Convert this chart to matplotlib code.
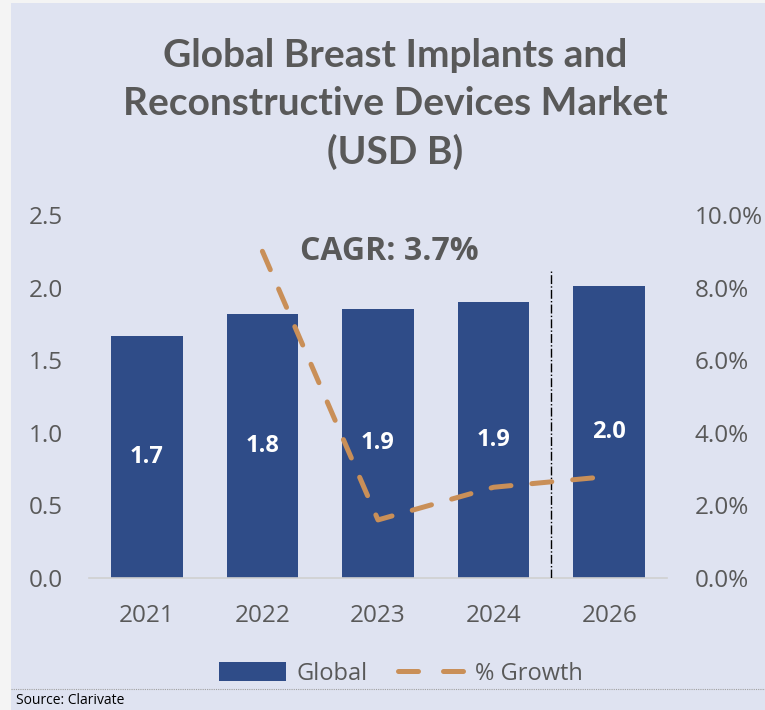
import matplotlib
matplotlib.use("Agg")
import matplotlib.pyplot as plt
import numpy as np
from matplotlib.patches import Rectangle
from matplotlib.lines import Line2D

years = ["2021", "2022", "2023", "2024", "2026"]
market = [1.67, 1.82, 1.855, 1.90, 2.01]
growth_pct = [np.nan, 9.0, 1.6, 2.5, 2.8]
left_ticks = [0.0, 0.5, 1.0, 1.5, 2.0, 2.5]
right_ticks = [0, 2, 4, 6, 8, 10]
title = "Global Breast Implants and\nReconstructive Devices Market\n(USD B)"
cagr_text = "CAGR: 3.7%"
source = "Source: Clarivate"

BG = "#dfe3f1"
BAR = "#2f4c88"
LINE = "#c98f58"
TXT = "#595959"

W, H = 765, 710
fig = plt.figure(figsize=(W / 100, H / 100), dpi=100, facecolor=BG)
fig.patches.append(Rectangle((0, 0), 11 / W, 1, transform=fig.transFigure,
                             facecolor="#f4f4f4", edgecolor="none", zorder=0))
fig.patches.append(Rectangle((0, 1 - 3 / H), 1, 3 / H, transform=fig.transFigure,
                             facecolor="#f4f4f4", edgecolor="none", zorder=0))

ax = fig.add_axes([89 / W, 1 - 578 / H, (667 - 89) / W, (578 - 215) / H])
ax.set_facecolor("none")
x = np.arange(len(years))
ax.bar(x, market, width=0.62, color=BAR, zorder=2)
for xi, v in zip(x, market):
    ax.text(xi, v / 2, f"{v:.1f}", ha="center", va="center", color="white",
            fontsize=17, fontweight="bold", family="Open Sans", zorder=4)

ax.set_xlim(-0.5, 4.5)
ax.set_ylim(0, 2.5)
ax.set_yticks(left_ticks)
ax.set_yticklabels([f"{t:.1f}" for t in left_ticks])
ax.set_xticks(x)
ax.set_xticklabels(years)
for s in ["top", "right", "left"]:
    ax.spines[s].set_visible(False)
ax.spines["bottom"].set_color("#d0d0d0")
ax.spines["bottom"].set_linewidth(1.2)
ax.tick_params(axis="both", length=0, colors=TXT, labelsize=17.5)
ax.tick_params(axis="y", pad=19)
ax.tick_params(axis="x", pad=19)
for lab in ax.get_xticklabels() + ax.get_yticklabels():
    lab.set_family("Open Sans")

ax.plot([3.5, 3.5], [0, 2.12], color="black", lw=1, linestyle="-.", zorder=3)

ax2 = ax.twinx()
ax2.set_ylim(0, 10)
ax2.set_yticks(right_ticks)
ax2.set_yticklabels([f"{t:.1f}%" for t in right_ticks])
for s in ["top", "right", "left", "bottom"]:
    ax2.spines[s].set_visible(False)
ax2.tick_params(axis="y", length=0, colors=TXT, labelsize=17.5, pad=20)
for lab in ax2.get_yticklabels():
    lab.set_family("Open Sans")
ax2.plot(x, growth_pct, color=LINE, lw=3.6, dashes=(4, 4.2),
         dash_capstyle="round", zorder=5)

ax2.text(2.1, 9.0, cagr_text, ha="center", va="center", fontsize=23,
         fontweight="bold", color=TXT, family="Open Sans")

fig.text(395 / W, 1 - 104 / H, title, ha="center", va="center", fontsize=28,
         fontweight="bold", color=TXT, family="Lato", linespacing=1.42)

handles = [Rectangle((0, 0), 1, 1, facecolor=BAR, edgecolor="none"),
           Line2D([0], [0], color=LINE, lw=3.6, dashes=(4, 5), dash_capstyle="round")]
leg = fig.legend(handles, ["Global", "% Growth"], loc="center",
                 bbox_to_anchor=(401 / W, 1 - 674 / H), ncol=2, frameon=False,
                 prop={"family": "Open Sans", "size": 17}, handlelength=2.8,
                 handleheight=0.85, columnspacing=1.3, handletextpad=0.45)
for t in leg.get_texts():
    t.set_color(TXT)

fig.add_artist(Line2D([11 / W, 1], [1 - 689 / H, 1 - 689 / H], transform=fig.transFigure,
                      color="#a0a0a0", lw=0.8, linestyle=(0, (1, 1))))
fig.text(16 / W, 1 - 701 / H, source, ha="left", va="center", fontsize=10,
         color="black", family="Open Sans")

fig.savefig("out.png", dpi=100, facecolor=BG)
